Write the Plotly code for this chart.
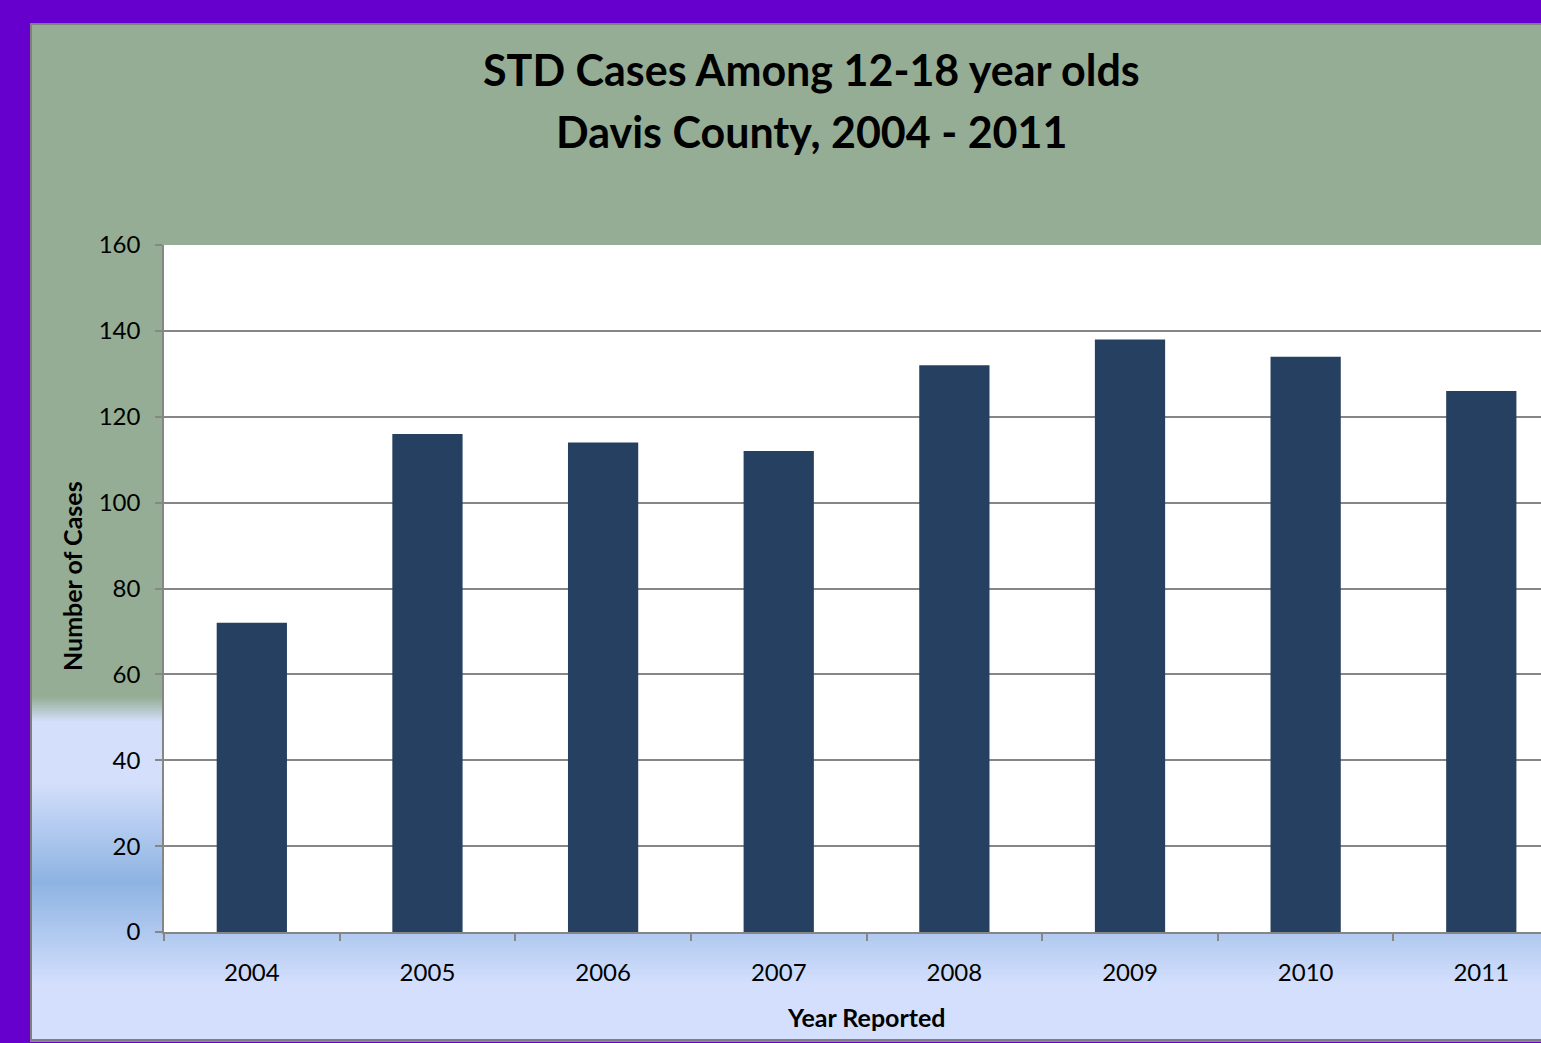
import plotly.graph_objects as go

# ---- data ----
years = ["2004", "2005", "2006", "2007", "2008", "2009", "2010", "2011"]
cases = [72, 116, 114, 112, 132, 138, 134, 126]
y_ticks = [0, 20, 40, 60, 80, 100, 120, 140, 160]

title_line1 = "STD Cases Among 12-18 year olds"
title_line2 = "Davis County, 2004 - 2011"
x_title = "Year Reported"
y_title = "Number of Cases"

W, H = 1541, 1043
L, R, T, B = 164, 0, 245, 111
PW, PH = W - L - R, H - T - B
FONT = "Lato"


def px(xp):
    """figure pixel x -> plot-area ('paper') fraction"""
    return (xp - L) / PW


def py(yp):
    """figure pixel y (from top) -> plot-area ('paper') fraction"""
    return (H - B - yp) / PH


fig = go.Figure()
fig.add_trace(go.Bar(x=years, y=cases, marker=dict(color="#264061", line=dict(width=0)),
                     hoverinfo="x+y"))

# ---- background (chart area with vertical gradient) ----
def hex2rgb(h):
    h = h.lstrip("#")
    return tuple(int(h[i:i + 2], 16) for i in (0, 2, 4))


stops = [(23, "#95AD95"), (697, "#95AD95"), (722, "#D4DFFC"), (782, "#D4DFFC"),
         (882, "#8DB3E2"), (985, "#D4DFFD"), (1043, "#D4DFFD")]


def color_at(yp):
    for (y0, c0), (y1, c1) in zip(stops[:-1], stops[1:]):
        if y0 <= yp <= y1:
            t = 0 if y1 == y0 else (yp - y0) / (y1 - y0)
            a, b = hex2rgb(c0), hex2rgb(c1)
            return "rgb(%d,%d,%d)" % tuple(round(a[i] + (b[i] - a[i]) * t) for i in range(3))
    return stops[-1][1]


shapes = []
shapes.append(dict(type="rect", xref="paper", yref="paper", x0=px(30), x1=px(W + 5),
                   y0=py(698), y1=py(23), fillcolor="#95AD95", line=dict(width=0),
                   layer="below"))
step = 2
yp = 697
while yp < 1041:
    shapes.append(dict(type="rect", xref="paper", yref="paper", x0=px(30), x1=px(W + 5),
                       y0=py(yp + step + 0.5), y1=py(yp),
                       fillcolor=color_at(yp + step / 2), line=dict(width=0), layer="below"))
    yp += step
# chart-area border
shapes.append(dict(type="rect", xref="paper", yref="paper", x0=px(31), x1=px(W + 5),
                   y0=py(1040), y1=py(24), fillcolor="rgba(0,0,0,0)",
                   line=dict(color="#7F7F7F", width=2), layer="below"))
# white plot area on top of the gradient
shapes.append(dict(type="rect", xref="paper", yref="paper", x0=0, x1=1, y0=0, y1=1,
                   fillcolor="#FFFFFF", line=dict(width=0), layer="below"))

annotations = [
    dict(text="<b>%s</b>" % title_line1, xref="paper", yref="paper", x=px(811), y=py(69),
         xanchor="center", yanchor="middle", showarrow=False,
         font=dict(family=FONT, size=43, color="#000000")),
    dict(text="<b>%s</b>" % title_line2, xref="paper", yref="paper", x=px(811), y=py(131),
         xanchor="center", yanchor="middle", showarrow=False,
         font=dict(family=FONT, size=43, color="#000000")),
    dict(text="<b>%s</b>" % x_title, xref="paper", yref="paper", x=px(866), y=py(1017),
         xanchor="center", yanchor="middle", showarrow=False,
         font=dict(family=FONT, size=25, color="#000000")),
    dict(text="<b>%s</b>" % y_title, xref="paper", yref="paper", x=px(72), y=py(576),
         xanchor="center", yanchor="middle", showarrow=False, textangle=-90,
         font=dict(family=FONT, size=25, color="#000000")),
]

grid = "#868686"
fig.update_layout(
    width=W, height=H,
    margin=dict(l=L, r=R, t=T, b=B, pad=0),
    paper_bgcolor="#6600CC",
    plot_bgcolor="#FFFFFF",
    showlegend=False,
    bargap=0.6,
    shapes=shapes,
    annotations=annotations,
    font=dict(family=FONT, size=24, color="#000000"),
    xaxis=dict(type="category", range=[-0.5, 7.34], tickson="boundaries",
               ticks="outside", ticklen=7, tickwidth=1.5, tickcolor=grid,
               showline=True, linecolor=grid, linewidth=1.5, showgrid=False,
               ticklabelstandoff=18, tickfont=dict(family=FONT, size=24, color="#000000"),
               fixedrange=True),
    yaxis=dict(range=[0, 160], tickvals=y_ticks, ticks="outside", ticklen=7, tickwidth=1.5,
               tickcolor=grid, showline=True, linecolor=grid, linewidth=1.5,
               showgrid=True, gridcolor=grid, gridwidth=1.5, zeroline=False,
               ticklabelstandoff=10, tickfont=dict(family=FONT, size=24, color="#000000"),
               fixedrange=True),
)

fig.write_html("out.html", config={"displayModeBar": False},
               post_script="document.body.style.margin='0';document.body.style.overflow='hidden';")
